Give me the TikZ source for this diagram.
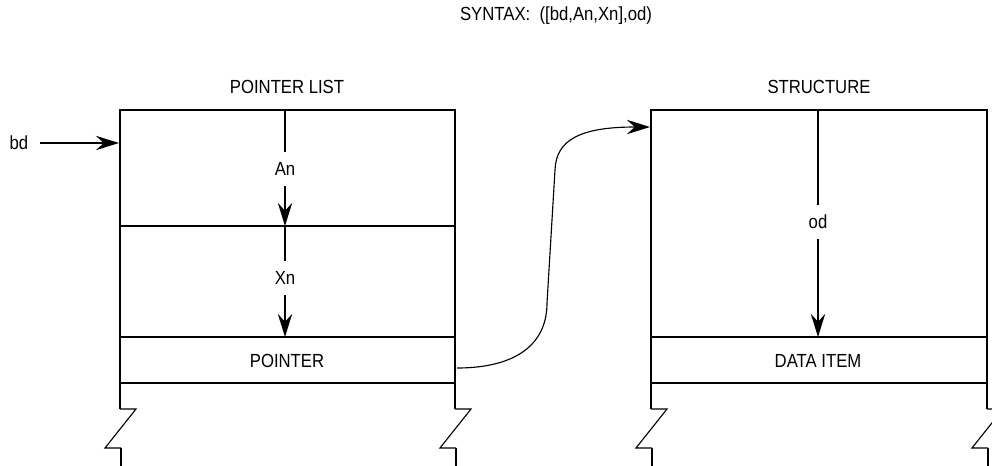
\documentclass[tikz,border=0pt]{standalone}
\usepackage{fontspec}
\setmainfont[FakeStretch=0.88]{Liberation Sans}
\usepackage{tikz}
\usetikzlibrary{arrows.meta}

\tikzset{
  lbl/.style={inner sep=1pt, font=\fontsize{13.5}{16}\selectfont},
  wall/.style={line width=1.8pt},
  rule/.style={line width=0.8pt},
}

\begin{document}
\begin{tikzpicture}[x=0.025cm, y=-0.025cm, line width=0.8pt,
    >={Stealth[length=0.58cm, width=0.36cm, inset=0.2cm]}]
   \useasboundingbox (0,0) rectangle (992,466);
   % titles
   \node[lbl] (syn) at (556,16) {SYNTAX:\ \ ([bd,An,Xn],od)};
   \node[lbl] (plist) at (287,87) {POINTER LIST};
   \node[lbl] (struct) at (819,87) {STRUCTURE};
   % pointer list
   \draw[wall] (120,409) -- (120,110) -- (455,110) -- (455,409);
   \draw[rule] (120,226) -- (455,226);
   \draw[rule] (120,337) -- (455,337);
   \draw[rule] (120,383) -- (455,383);
   % structure
   \draw[wall] (651,409) -- (651,110) -- (987,110) -- (987,409);
   \draw[rule] (651,337) -- (987,337);
   \draw[rule] (651,383) -- (987,383);
   % broken ends
   \foreach \bx in {120,455,651,987} {
     \draw[rule] (\bx,409) -- (\bx+16,409) -- (\bx-15,448) -- (\bx+1,448);
     \draw[wall] (\bx+1,448) -- (\bx+1,470);
   }
   % labels
   \node[lbl] (bd) at (19,143) {bd};
   \node[lbl] (an) at (285,169) {An};
   \node[lbl] (xn) at (285,278) {Xn};
   \node[lbl] (od) at (818,222) {od};
   \node[lbl] (ptr) at (287,361) {POINTER};
   \node[lbl] (item) at (818,361) {DATA ITEM};
   \coordinate (bdin) at (119,143);
   \coordinate (antop) at (285,110);
   \coordinate (xntop) at (285,226);
   \coordinate (ptrtop) at (285,337);
   \coordinate (odtop) at (818,110);
   \coordinate (itemtop) at (818,337);
   \coordinate (ptrout) at (457,368);
   \coordinate (structin) at (650,127);
   % arrows
   \draw[->] (bd) ++(21,0) -- (bdin);
   \draw (antop) -- ([yshift=6pt]an.north);
   \draw[->] ([yshift=-6pt]an.south) -- (xntop);
   \draw (xntop) -- ([yshift=6pt]xn.north);
   \draw[->] ([yshift=-6pt]xn.south) -- (ptrtop);
   \draw (odtop) -- ([yshift=6pt]od.north);
   \draw[->] ([yshift=-6pt]od.south) -- (itemtop);
   \draw[->] (ptrout) .. controls (515,368) and (547,345) .. (547,303)
      -- (555,170) .. controls (556,140) and (580,127) .. (structin);
\end{tikzpicture}
\end{document}
